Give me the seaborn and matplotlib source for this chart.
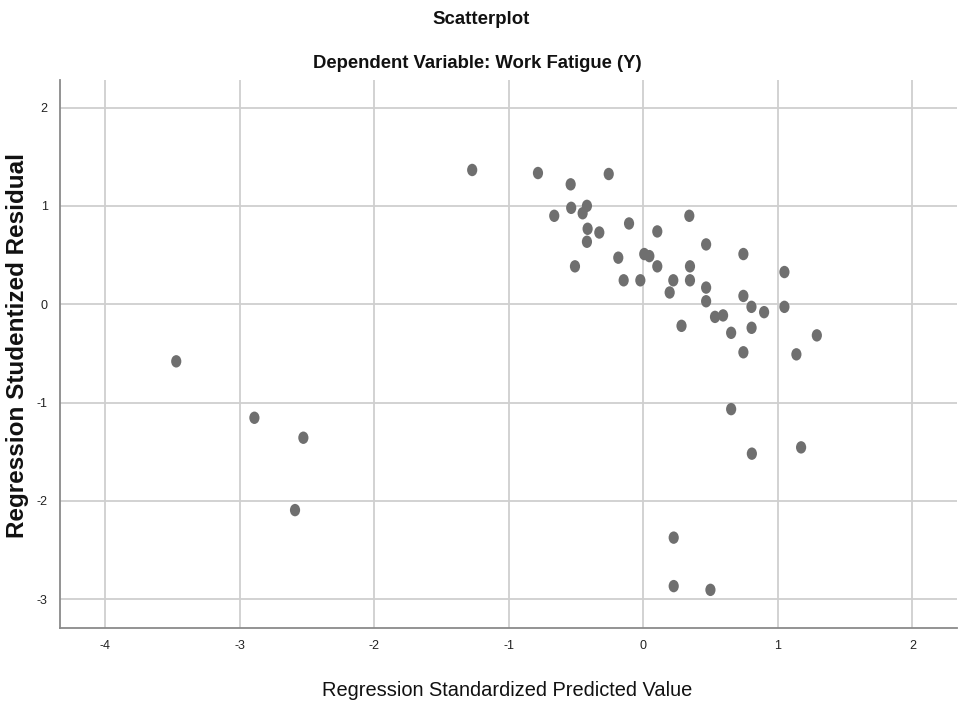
import numpy as np
import pandas as pd
import matplotlib
matplotlib.use("Agg")
import matplotlib.pyplot as plt
import seaborn as sns
from matplotlib.path import Path
from matplotlib.transforms import Affine2D

# Regression standardized predicted values (x) and studentized residuals (y)
predicted = [
    -1.272, -0.783, -0.257, -0.540, -0.536, -0.419, -0.451, -0.662, -0.414, -0.327,
    -0.419, -0.508, -0.186, -0.106, 0.104, 0.342, 0.467, 0.744, 0.007, 0.045,
    0.104, 0.347, -0.146, -0.022, 0.223, 0.347, 0.196, 0.467, 0.467, 0.744,
    0.804, 0.533, 0.593, 1.049, 0.898, 1.049, 0.653, 0.805, 1.290, 0.744,
    1.138, 0.284, 0.653, 0.807, 1.173, -3.472, -2.891, -2.527, -2.589, 0.226,
    0.226, 0.499,
]
residual = [
    1.365, 1.334, 1.324, 1.219, 0.980, 1.000, 0.925, 0.899, 0.767, 0.729,
    0.635, 0.385, 0.473, 0.821, 0.740, 0.899, 0.608, 0.510, 0.510, 0.489,
    0.385, 0.385, 0.243, 0.243, 0.243, 0.243, 0.119, 0.169, 0.030, 0.084,
    -0.027, -0.129, -0.114, 0.327, -0.081, -0.027, -0.291, -0.240, -0.317, -0.489,
    -0.510, -0.220, -1.067, -1.520, -1.456, -0.581, -1.155, -1.358, -2.094, -2.374,
    -2.867, -2.905,
]
x_ticks = [-4, -3, -2, -1, 0, 1, 2]
y_ticks = [-3, -2, -1, 0, 1, 2]

title = "Scatterplot"
subtitle = "Dependent Variable: Work Fatigue (Y)"
x_label = "Regression Standardized Predicted Value"
y_label = "Regression Studentized Residual"

df = pd.DataFrame({"pred": predicted, "resid": residual})

sns.set_theme(style="white")
plt.rcParams["font.family"] = ["Liberation Sans", "DejaVu Sans"]

fig = plt.figure(figsize=(9.63, 7.03), dpi=100)
ax = fig.add_axes([0.0626, 0.1071, 0.9309, 0.7791])

ellipse = Path.unit_circle().transformed(Affine2D().scale(0.82, 1.0))
sns.scatterplot(data=df, x="pred", y="resid", ax=ax, marker=ellipse,
                s=80, color="#6f6f6f", edgecolor="none", linewidth=0, zorder=3)

ax.set_xlim(-4.334, 2.33)
ax.set_ylim(-3.29, 2.28)
ax.set_xticks(x_ticks)
ax.set_yticks(y_ticks)
ax.set_xticklabels([str(t) for t in x_ticks])
ax.set_yticklabels([str(t) for t in y_ticks])
ax.grid(True, color="#cfcfcf", linewidth=1.3, zorder=0)
ax.set_axisbelow(True)
for side in ["top", "right"]:
    ax.spines[side].set_visible(False)
for side in ["left", "bottom"]:
    ax.spines[side].set_color("#8a8a8a")
    ax.spines[side].set_linewidth(1.3)
ax.tick_params(axis="both", length=3, width=1, color="#c0c0c0",
               labelsize=9, labelcolor="#222222", pad=6)
ax.set_xlabel("")
ax.set_ylabel("")

fig.text(481 / 963, 1 - 20 / 703, title, ha="center", va="center",
         fontsize=13.4, fontweight="bold", color="#111111")
fig.text(477 / 963, 1 - 64 / 703, subtitle, ha="center", va="center",
         fontsize=13.3, fontweight="bold", color="#111111")
fig.text(507 / 963, 1 - 691 / 703, x_label, ha="center", va="center",
         fontsize=14.4, color="#111111")
fig.text(18 / 963, 1 - 345 / 703, y_label, ha="center", va="center",
         rotation=90, fontsize=17.5, fontweight="bold", color="#111111")

fig.savefig("out.png", dpi=100)
